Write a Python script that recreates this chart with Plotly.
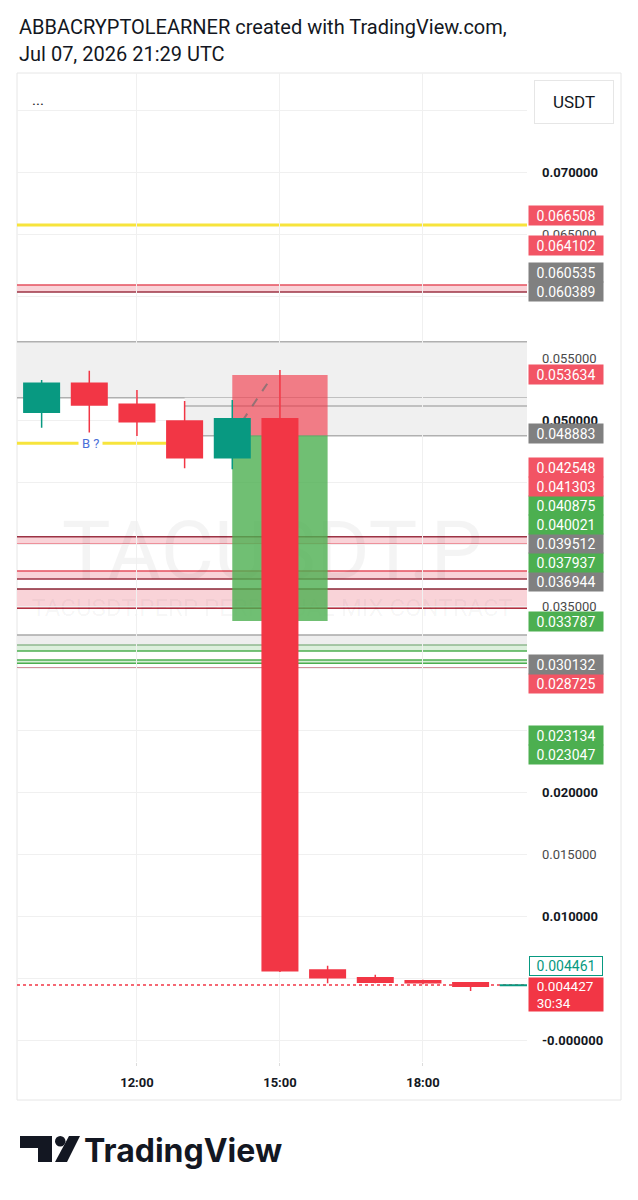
import plotly.graph_objects as go

# ---------------- data ----------------
times = ["2026-07-07 10:00", "2026-07-07 11:00", "2026-07-07 12:00", "2026-07-07 13:00",
         "2026-07-07 14:00", "2026-07-07 15:00", "2026-07-07 16:00", "2026-07-07 17:00",
         "2026-07-07 18:00", "2026-07-07 19:00", "2026-07-07 20:00"]
opens = [0.05062, 0.05296, 0.05127, 0.04992, 0.04696, 0.05011, 0.005645, 0.005024, 0.00478, 0.00462, 0.00440]
highs = [0.05323, 0.05398, 0.05242, 0.05153, 0.05161, 0.05403, 0.00599, 0.005266, 0.00486, 0.00462, 0.004461]
lows = [0.04938, 0.04825, 0.04871, 0.04611, 0.04602, 0.00548, 0.00457, 0.00457, 0.00449, 0.00395, 0.00438]
closes = [0.05296, 0.05121, 0.04986, 0.04696, 0.05011, 0.00559, 0.005024, 0.004653, 0.00462, 0.00433, 0.004427]

# price-axis labels that are visible (others are hidden behind the price labels)
axis_ticks = [0.0, 0.010, 0.015, 0.020, 0.025, 0.035, 0.050, 0.055, 0.065, 0.070]
axis_tick_text = ["-0.000000", "0.010000", "0.015000", "0.020000", "0.025000",
                  "0.035000", "0.050000", "0.055000", "0.065000", "0.070000"]

x_ticks = ["2026-07-07 12:00", "2026-07-07 15:00", "2026-07-07 18:00"]
x_tick_text = ["12:00", "15:00", "18:00"]

label_prices = [0.066508, 0.064102, 0.060535, 0.060389, 0.053634, 0.048883, 0.042548, 0.041303,
                0.040875, 0.040021, 0.039512, 0.037937, 0.036944, 0.033787, 0.030132, 0.028725,
                0.023134, 0.023047, 0.004461]
label_kinds = ["red", "red", "gray", "gray", "red", "gray", "red", "red",
               "green", "green", "gray", "green", "gray", "green", "gray", "red",
               "green", "green", "outline"]
last_price = 0.004427
countdown = "30:34"

# drawings (price levels)
yellow_top_level = 0.06573
yellow_b_level = 0.04812
red_bands = [(0.06089, 0.06032), (0.04059, 0.03998), (0.037823, 0.037177), (0.036371, 0.034815)]
gray_zone_a = (0.056315, 0.051798)
gray_zone_b = (0.051129, 0.048734)
gray_green_zone = (0.03266, 0.031855, 0.031371)
green_pair = (0.030645, 0.03038)
dark_red_level = 0.029976
position_entry = 0.04875
position_stop = 0.053634
position_target = 0.033787
position_start = "2026-07-07 14:00"
position_end = "2026-07-07 16:00"

# ---------------- geometry ----------------
W, H = 638, 1200
PL, PR, PT, PB = 17, 527, 73, 1062
Y_RANGE = [-0.001774, 0.077984]
X_RANGE = ["2026-07-07 09:29", "2026-07-07 20:11"]
k = (PB - PT) / (Y_RANGE[1] - Y_RANGE[0])  # px per price unit


def px(x):
    return (x - PL) / (PR - PL)


def py(y):
    return (PB - y) / (PB - PT)


FONT = "Roboto"
TXT = "#131722"
RED_L = "#f25464"
GRAY_L = "#808080"
GREEN_L = "#4caf50"
PINK = "#f9d3d8"
EDGE_RED = "#e4505f"
EDGE_DARK = "#9c3344"
GRAY_EDGE = "#b0b0b0"
YELLOW = "#f7e43c"

fig = go.Figure()
fig.add_trace(go.Candlestick(
    x=times, open=opens, high=highs, low=lows, close=closes,
    increasing=dict(line=dict(color="#089981", width=1.5), fillcolor="#089981"),
    decreasing=dict(line=dict(color="#f23645", width=1.5), fillcolor="#f23645"),
    whiskerwidth=0, showlegend=False, hoverinfo="skip"))

shapes = []


def hline(y, color, width=1.5, x0=0, x1=1, xref="paper", layer="below", dash="solid"):
    shapes.append(dict(type="line", xref=xref, x0=x0, x1=x1, yref="y", y0=y, y1=y,
                       line=dict(color=color, width=width, dash=dash), layer=layer))


def band(y0, y1, fill, x0=0, x1=1, xref="paper", layer="below"):
    shapes.append(dict(type="rect", xref=xref, x0=x0, x1=x1, yref="y", y0=y0, y1=y1,
                       fillcolor=fill, line=dict(width=0), layer=layer))


# frame
shapes.append(dict(type="rect", xref="paper", yref="paper", x0=px(17), x1=px(621),
                   y0=py(1100), y1=py(73), line=dict(color="#e6e6e6", width=1),
                   fillcolor="rgba(0,0,0,0)", layer="below"))

# yellow line top
hline(yellow_top_level, YELLOW, width=3)

# red bands (edge colours per band)
band_edges = [(EDGE_RED, EDGE_DARK), (EDGE_DARK, EDGE_RED), (EDGE_RED, EDGE_DARK), ("#8a2535", "#b03040")]
for (t, b), (ct, cb) in zip(red_bands, band_edges):
    band(t, b, PINK)
    hline(t, ct)
    hline(b, cb)

# gray zones
band(gray_zone_a[0], gray_zone_a[1], "#f0f0f0")
hline(gray_zone_a[0], GRAY_EDGE)
hline(gray_zone_a[1], GRAY_EDGE)
band(gray_zone_a[1], gray_zone_b[1], "#f0f0f0", x0="2026-07-07 13:00", x1=X_RANGE[1], xref="x")
hline(gray_zone_b[0], GRAY_EDGE, x0="2026-07-07 13:00", x1=X_RANGE[1], xref="x")
hline(gray_zone_b[1], GRAY_EDGE, x0="2026-07-07 13:00", x1=X_RANGE[1], xref="x")

# gray / green zone
band(gray_green_zone[0], gray_green_zone[1], "#eeeeee")
band(gray_green_zone[1], gray_green_zone[2], "#dcefdc")
hline(gray_green_zone[0], "#a8a8a8")
hline(gray_green_zone[1], "#8fb88f")
hline(gray_green_zone[2], "#4caf50")
band(green_pair[0], green_pair[1], "#d6eed6")
hline(green_pair[0], "#4caf50")
hline(green_pair[1], "#4caf50")
hline(dark_red_level, "#a02838")

# yellow line with B ? label
hline(yellow_b_level, YELLOW, width=3, x0=X_RANGE[0], x1="2026-07-07 12:37", xref="x")

# watermark (shape labels so it sits below the position tool)
shapes.append(dict(type="rect", xref="paper", yref="paper", x0=0, x1=1, y0=py(590), y1=py(500),
                   line=dict(width=0), fillcolor="rgba(0,0,0,0)", layer="between",
                   label=dict(text="TACUSDT.P", textposition="middle center",
                              font=dict(family=FONT, size=82, color="rgba(0,0,0,0.045)"))))
shapes.append(dict(type="rect", xref="paper", yref="paper", x0=0, x1=1, y0=py(620), y1=py(592),
                   line=dict(width=0), fillcolor="rgba(0,0,0,0)", layer="between",
                   label=dict(text="TACUSDT.PERP PERPETUAL MIX CONTRACT", textposition="middle center",
                              font=dict(family=FONT, size=24, color="rgba(0,0,0,0.045)"))))

# position tool
shapes.append(dict(type="rect", xref="x", yref="y", x0=position_start, x1=position_end,
                   y0=position_entry, y1=position_stop, fillcolor="rgba(242,54,69,0.62)",
                   line=dict(width=0), layer="between"))
shapes.append(dict(type="rect", xref="x", yref="y", x0=position_start, x1=position_end,
                   y0=position_target, y1=position_entry, fillcolor="rgba(76,175,80,0.8)",
                   line=dict(width=0), layer="between"))
shapes.append(dict(type="line", xref="x", yref="y", x0=position_start, y0=0.0487,
                   x1="2026-07-07 14:50", y1=0.05351,
                   line=dict(color="rgba(110,110,110,0.7)", width=2, dash="dash"), layer="between"))

# current price dotted line
hline(last_price, "#f23645", width=1.5, dash="dot", layer="between")


# logo icon (pixel coords)
def path(points):
    return "M " + " L ".join(f"{px(x)},{py(y)}" for x, y in points) + " Z"


shapes.append(dict(type="path", xref="paper", yref="paper",
                   path=path([(20, 1136), (52, 1136), (52, 1162), (38, 1162), (38, 1148), (20, 1148)]),
                   fillcolor=TXT, line=dict(width=0), layer="above"))
shapes.append(dict(type="circle", xref="paper", yref="paper", x0=px(55), x1=px(65.5),
                   y0=py(1146.5), y1=py(1136), fillcolor=TXT, line=dict(width=0), layer="above"))
shapes.append(dict(type="path", xref="paper", yref="paper",
                   path=path([(69, 1136), (80, 1136), (67, 1162), (55, 1162)]),
                   fillcolor=TXT, line=dict(width=0), layer="above"))

annotations = []
# header
annotations.append(dict(xref="paper", yref="paper", x=px(17), y=py(27), xanchor="left", yanchor="middle",
                        text="ABBACRYPTOLEARNER created with TradingView.com,", showarrow=False,
                        font=dict(family=FONT, size=20, color=TXT)))
annotations.append(dict(xref="paper", yref="paper", x=px(17), y=py(54), xanchor="left", yanchor="middle",
                        text="Jul 07, 2026 21:29 UTC", showarrow=False,
                        font=dict(family=FONT, size=20, color=TXT)))
annotations.append(dict(xref="paper", yref="paper", x=px(38), y=py(100), xanchor="center", yanchor="middle",
                        text="...", showarrow=False, font=dict(family=FONT, size=15, color=TXT)))
annotations.append(dict(xref="paper", yref="paper", x=px(574), y=py(102), xanchor="center", yanchor="middle",
                        text="USDT", showarrow=False, font=dict(family=FONT, size=17, color=TXT),
                        bgcolor="white", bordercolor="#e6e6e6", borderwidth=1, borderpad=0,
                        width=78, height=42))
annotations.append(dict(xref="x", yref="y", x="2026-07-07 11:01", y=yellow_b_level, xanchor="center",
                        yanchor="middle", text="B ?", showarrow=False, bgcolor="white", borderpad=3,
                        font=dict(family=FONT, size=13, color="#4a6fd8")))

# price axis tick labels
for v, t in zip(axis_ticks, axis_tick_text):
    bold = abs(round(v * 100) - v * 100) < 1e-9
    annotations.append(dict(xref="paper", yref="y", x=px(540), y=v, xanchor="left", yanchor="middle",
                            text=t, showarrow=False,
                            font=dict(family=FONT, size=13, color=TXT if bold else "#4a4a4a",
                                      weight="bold" if bold else "normal")))

# price labels with TradingView-like stacking (bottom-up)
gap = 19 / k
prev = last_price
colors = {"red": RED_L, "gray": GRAY_L, "green": GREEN_L}
for p, kind in sorted(zip(label_prices, label_kinds), key=lambda t: t[0]):
    d = max(p, prev + gap)
    prev = d
    if kind == "outline":
        annotations.append(dict(xref="paper", yref="y", x=px(566), y=d, xanchor="center", yanchor="middle",
                                text=f"{p:.6f}", showarrow=False, bgcolor="white", bordercolor="#089981",
                                borderwidth=1, borderpad=1, width=70, height=16,
                                font=dict(family=FONT, size=14, color="#089981")))
    else:
        annotations.append(dict(xref="paper", yref="y", x=px(566), y=d, xanchor="center", yanchor="middle",
                                text=f"{p:.6f}", showarrow=False, bgcolor=colors[kind], borderpad=1,
                                width=72, height=17, font=dict(family=FONT, size=14, color="white")))

# current price label (two lines)
annotations.append(dict(xref="paper", yref="y", x=px(566), y=last_price, xanchor="center", yanchor="top",
                        yshift=8, text=f"&nbsp;&nbsp;{last_price:.6f}<br>&nbsp;&nbsp;{countdown}",
                        showarrow=False, align="left", bgcolor="#f23645", borderpad=1, width=72, height=31,
                        font=dict(family=FONT, size=13.5, color="white")))

# logo text
annotations.append(dict(xref="paper", yref="paper", x=px(82), y=py(1150), xanchor="left", yanchor="middle",
                        text="TradingView", showarrow=False,
                        font=dict(family="Inter", size=32, color=TXT, weight="bold")))

fig.update_layout(
    width=W, height=H, margin=dict(l=PL, r=W - PR, t=PT, b=H - PB, pad=0),
    paper_bgcolor="white", plot_bgcolor="white", showlegend=False,
    boxgap=0.255, boxgroupgap=0,
    shapes=shapes, annotations=annotations,
    xaxis=dict(type="date", range=X_RANGE, rangeslider=dict(visible=False),
               tickvals=x_ticks, ticktext=x_tick_text, showgrid=True, gridcolor="#f0f0f0",
               zeroline=False, showline=False, ticks="outside", ticklen=3, tickcolor="#dcdcdc",
               ticklabelstandoff=5,
               tickfont=dict(family=FONT, size=13, color=TXT, weight="bold")),
    yaxis=dict(range=Y_RANGE, tick0=0, dtick=0.005, showgrid=True, gridcolor="#f0f0f0",
               showticklabels=False, zeroline=False, showline=False, ticks=""),
)

fig.write_html("out.html")
